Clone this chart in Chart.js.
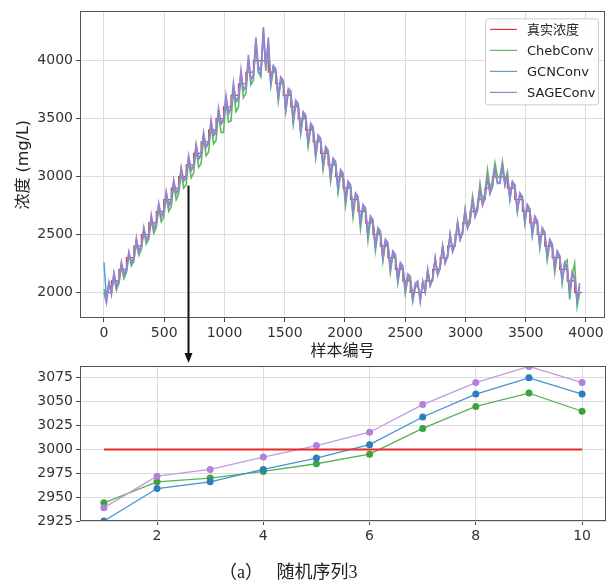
<!DOCTYPE html>
<html>
<head>
<meta charset="utf-8">
<script src="https://cdn.jsdelivr.net/npm/chart.js@4.4.1/dist/chart.umd.min.js"></script>
<style>
  html, body { margin: 0; padding: 0; background: #fff; }
  #wrap { position: relative; width: 610px; height: 584px; overflow: hidden; }
  #topChart { position: absolute; left: 0; top: 0; }
  #bottomChart { position: absolute; left: 0; top: 355px; }
  #caption { position: absolute; left: 219px; top: 557px;
             font: 18px "Liberation Serif", "Noto Sans CJK SC", serif; color: #222; white-space: pre; }
</style>
</head>
<body>
<div id="wrap">
  <canvas id="topChart" width="610" height="366"></canvas>
  <canvas id="bottomChart" width="610" height="229"></canvas>
  <div id="caption">（a）   随机序列3</div>
</div>
<script>
// 上段: 全体 (样本编号 0..~3960), 1 レベル = 62 サンプル, 予測は 1 レベルあたり 3 点
const levelLen = 62;
const trueLevels = [
  2000,2100,2200,2300,2400,2500,2600,2700,2800,2900,3000,3100,3200,3300,3400,3500,3600,3700,3800,3900,4000,
  4000,
  3900,3800,3700,3600,3500,3400,3300,3200,3100,3000,2900,2800,2700,2600,2500,2400,2300,2200,2100,2000,
  2000,
  2100,2200,2300,2400,2500,2600,2700,2800,2900,3000,
  3000,
  2900,2800,2700,2600,2500,2400,2300,2200,2100,2000
];

const chebPred = [
  2030,1960,2060, 2010,2140,2020, 2080,2230,2120, 2170,2330,2230, 2270,2430,2320,
  2370,2530,2420, 2460,2630,2510, 2560,2730,2610, 2650,2830,2700, 2740,2930,2800,
  2850,3040,2900, 2930,3140,2990, 3030,3240,3080, 3110,3340,3180, 3210,3440,3280,
  3310,3550,3380, 3380,3650,3470, 3480,3760,3560, 3600,3870,3680, 3720,4000,3790,
  3830,4180,3900, 3860,4270,3910,
  4120,3780,3920, 3900,3650,3820, 3800,3560,3720, 3700,3450,3620, 3600,3370,3520,
  3500,3260,3420, 3400,3160,3320, 3300,3060,3220, 3200,2960,3120, 3100,2860,3020,
  3000,2750,2920, 2900,2650,2820, 2800,2550,2720, 2700,2450,2620, 2600,2360,2520,
  2500,2270,2420, 2400,2170,2320, 2300,2080,2220, 2200,1990,2120, 2100,1930,2040,
  2070,1950,2080,
  2020,2180,2060, 2130,2290,2160, 2230,2400,2260, 2330,2500,2370, 2440,2610,2470,
  2540,2720,2580, 2650,2830,2680, 2750,2940,2790, 2860,3060,2900, 2960,3120,3000, 2990,3130,2960,
  3040,2810,2950, 2930,2700,2850, 2830,2600,2750, 2720,2490,2640, 2620,2380,2540,
  2510,2280,2430, 2410,2170,2330, 2310,2080,2250, 2280,1940,2150, 2250,1880,2000
];

const gcnPred = [
  2260,1950,2090, 2000,2170,2060, 2100,2250,2160, 2200,2340,2260, 2300,2450,2360,
  2400,2550,2460, 2500,2650,2560, 2600,2750,2660, 2700,2860,2760, 2800,2950,2860,
  2900,3060,2970, 3000,3160,3060, 3100,3260,3160, 3190,3360,3260, 3300,3460,3360,
  3400,3570,3460, 3490,3670,3560, 3590,3780,3650, 3690,3880,3750, 3780,3990,3840,
  3860,4150,3900, 3880,4230,3930,
  4150,3800,3940, 3910,3680,3840, 3810,3570,3740, 3720,3480,3640, 3610,3380,3540,
  3510,3280,3440, 3410,3180,3340, 3310,3080,3240, 3210,2990,3140, 3110,2890,3040,
  3010,2790,2940, 2910,2690,2840, 2810,2590,2740, 2710,2490,2640, 2610,2390,2540,
  2510,2290,2440, 2410,2200,2340, 2310,2100,2240, 2210,2010,2140, 2120,1930,2060,
  2080,1930,2100,
  2010,2190,2070, 2120,2290,2160, 2220,2390,2260, 2320,2490,2360, 2420,2590,2460,
  2520,2690,2560, 2620,2790,2660, 2720,2890,2760, 2820,2990,2860, 2920,3070,2950, 2940,3080,2920,
  3000,2800,2940, 2900,2700,2840, 2800,2600,2740, 2700,2500,2640, 2600,2400,2540,
  2500,2300,2440, 2400,2200,2340, 2300,2100,2240, 2200,1990,2160, 2110,1920,2050
];

const sagePred = [
  2000,1910,2080, 1980,2160,2040, 2090,2260,2150, 2180,2350,2250, 2290,2470,2340,
  2390,2560,2450, 2480,2670,2540, 2590,2770,2650, 2690,2870,2740, 2780,2970,2850,
  2890,3080,2960, 2990,3180,3050, 3090,3280,3150, 3180,3380,3250, 3290,3490,3350,
  3380,3590,3450, 3480,3700,3540, 3580,3810,3640, 3670,3920,3740, 3770,4050,3830,
  3880,4200,3950, 3900,4290,3940,
  4200,3820,3960, 3930,3700,3860, 3830,3590,3760, 3740,3500,3660, 3630,3400,3560,
  3530,3300,3460, 3430,3200,3360, 3330,3100,3260, 3230,3010,3160, 3130,2910,3060,
  3030,2810,2960, 2930,2710,2860, 2830,2610,2760, 2730,2510,2660, 2630,2410,2560,
  2530,2310,2460, 2430,2220,2360, 2330,2120,2260, 2230,2030,2160, 2140,1950,2080,
  2100,1920,2090,
  2000,2200,2060, 2110,2300,2150, 2210,2400,2250, 2310,2500,2350, 2410,2600,2450,
  2510,2700,2550, 2610,2800,2650, 2710,2900,2750, 2810,3000,2850, 2910,3080,2940, 2950,3100,2930,
  3020,2820,2960, 2920,2720,2860, 2820,2620,2760, 2720,2520,2660, 2620,2420,2560,
  2520,2320,2460, 2420,2220,2360, 2320,2120,2260, 2220,2010,2180, 2130,1940,2080
];

const xTicksTop = [0, 500, 1000, 1500, 2000, 2500, 3000, 3500, 4000];
const yTicksTop = [2000, 2500, 3000, 3500, 4000];

// 下段: 随机序列3 の 10 サンプル拡大
const zoomX = [1, 2, 3, 4, 5, 6, 7, 8, 9, 10];
const zoomTrue = [3000, 3000, 3000, 3000, 3000, 3000, 3000, 3000, 3000, 3000];
const zoomCheb = [2944, 2966, 2970, 2977, 2985, 2995, 3022, 3045, 3059, 3040];
const zoomGcn  = [2925, 2959, 2966, 2979, 2991, 3005, 3034, 3058, 3075, 3058];
const zoomSage = [2939, 2972, 2979, 2992, 3004, 3018, 3047, 3070, 3087, 3070];
const xTicksBottom = [2, 4, 6, 8, 10];
const yTicksBottom = [2925, 2950, 2975, 3000, 3025, 3050, 3075];

// 矢印の起点 (上段のデータ座標)
const arrowSample = 700;
const arrowValue = 2922;

const labels = ['真实浓度', 'ChebConv', 'GCNConv', 'SAGEConv'];
const FONT = "'DejaVu Sans', 'Noto Sans CJK SC', sans-serif";

const truePts = trueLevels.map((v, i) => ({ x: i * levelLen, y: v }));
truePts.push({ x: trueLevels.length * levelLen, y: trueLevels[trueLevels.length - 1] });
const toPts = arr => arr.map((v, i) => ({ x: i * levelLen / 3, y: v }));

const framePlugin = {
  id: 'frame',
  afterDraw(chart) {
    const { ctx, chartArea: a } = chart;
    ctx.save();
    ctx.strokeStyle = '#555';
    ctx.lineWidth = 1;
    ctx.strokeRect(Math.round(a.left) + 0.5, Math.round(a.top) + 0.5,
      Math.round(a.right - a.left) - 1, Math.round(a.bottom - a.top) - 1);
    ctx.restore();
  }
};

const boxLegend = {
  id: 'boxLegend',
  afterDraw(chart) {
    const { ctx, chartArea: a } = chart;
    const w = 113, h = 86;
    const left = a.right - 120, top = a.top + 7;
    ctx.save();
    ctx.fillStyle = 'rgba(255,255,255,0.85)';
    ctx.strokeStyle = '#cccccc';
    ctx.lineWidth = 1;
    ctx.beginPath();
    ctx.roundRect(left + 0.5, top + 0.5, w, h, 3);
    ctx.fill();
    ctx.stroke();
    ctx.font = "13px " + FONT;
    ctx.textBaseline = 'middle';
    chart.data.datasets.forEach((ds, i) => {
      const y = top + 11 + i * 21;
      ctx.strokeStyle = ds.borderColor;
      ctx.lineWidth = 1.2;
      ctx.beginPath();
      ctx.moveTo(left + 5, y);
      ctx.lineTo(left + 32, y);
      ctx.stroke();
      ctx.fillStyle = '#222';
      ctx.fillText(ds.label, left + 42, y + 1);
    });
    ctx.restore();
  }
};

const arrowPlugin = {
  id: 'arrow',
  afterDraw(chart) {
    const { ctx, scales } = chart;
    const x = Math.round(scales.x.getPixelForValue(arrowSample)) + 0.5;
    const y0 = scales.y.getPixelForValue(arrowValue);
    const tip = chart.height - 3;
    ctx.save();
    ctx.strokeStyle = '#111';
    ctx.fillStyle = '#111';
    ctx.lineWidth = 2;
    ctx.beginPath();
    ctx.moveTo(x, y0);
    ctx.lineTo(x, tip - 9);
    ctx.stroke();
    ctx.beginPath();
    ctx.moveTo(x - 4, tip - 10);
    ctx.lineTo(x + 4, tip - 10);
    ctx.lineTo(x, tip);
    ctx.closePath();
    ctx.fill();
    ctx.restore();
  }
};

function axisCommon(tickValues) {
  return {
    type: 'linear',
    afterBuildTicks: s => { s.ticks = tickValues.map(v => ({ value: v })); },
    grid: { color: '#dcdcdc', lineWidth: 1, tickLength: 4, tickColor: '#444' },
    border: { display: false },
    ticks: { font: { family: FONT, size: 14 }, color: '#333', padding: 3, callback: v => String(v) }
  };
}

new Chart(document.getElementById('topChart'), {
  type: 'line',
  data: {
    datasets: [
      { label: labels[0], data: truePts, borderColor: '#e8362f', stepped: 'before', borderWidth: 1.2, order: 4 },
      { label: labels[1], data: toPts(chebPred), borderColor: '#5dbb5d', borderWidth: 1.6, order: 3 },
      { label: labels[2], data: toPts(gcnPred), borderColor: '#5aa0d8', borderWidth: 1.6, order: 2 },
      { label: labels[3], data: toPts(sagePred), borderColor: '#9b82d0', borderWidth: 1.6, order: 1 }
    ]
  },
  options: {
    responsive: false,
    animation: false,
    parsing: false,
    normalized: true,
    elements: { point: { radius: 0 }, line: { tension: 0 } },
    layout: { padding: { top: 6, right: 5, left: 10, bottom: 0 } },
    plugins: { legend: { display: false }, tooltip: { enabled: false } },
    scales: {
      x: Object.assign(axisCommon(xTicksTop), {
        min: -199, max: 4158,
        afterFit: s => { s.height = 48; },
        title: { display: true, text: '样本编号', font: { family: FONT, size: 16 }, color: '#222',
                 padding: { top: 0, bottom: 5 } }
      }),
      y: Object.assign(axisCommon(yTicksTop), {
        min: 1780, max: 4424,
        afterFit: s => { s.width = 70; },
        title: { display: true, text: '浓度 (mg/L)', font: { family: FONT, size: 16 }, color: '#222',
                 padding: { top: 4, bottom: 0 } }
      })
    }
  },
  plugins: [framePlugin, boxLegend, arrowPlugin]
});

const ptsOf = arr => arr.map((v, i) => ({ x: zoomX[i], y: v }));

new Chart(document.getElementById('bottomChart'), {
  type: 'line',
  data: {
    datasets: [
      { label: labels[0], data: ptsOf(zoomTrue), borderColor: '#e82a2a', borderWidth: 2, pointRadius: 0, order: 1 },
      { label: labels[1], data: ptsOf(zoomCheb), borderColor: '#55b155', backgroundColor: '#3da33d',
        borderWidth: 1.3, pointRadius: 3.5, pointBorderWidth: 0, order: 4 },
      { label: labels[2], data: ptsOf(zoomGcn), borderColor: '#4592cf', backgroundColor: '#2b7fc0',
        borderWidth: 1.3, pointRadius: 3.5, pointBorderWidth: 0, order: 3 },
      { label: labels[3], data: ptsOf(zoomSage), borderColor: '#c29ae2', backgroundColor: '#b57fdc',
        borderWidth: 1.3, pointRadius: 3.5, pointBorderWidth: 0, order: 2 }
    ]
  },
  options: {
    responsive: false,
    animation: false,
    parsing: false,
    elements: { line: { tension: 0 } },
    layout: { padding: { top: 10, right: 4, left: 10, bottom: 0 } },
    plugins: { legend: { display: false }, tooltip: { enabled: false } },
    scales: {
      x: Object.assign(axisCommon(xTicksBottom), {
        min: 0.55, max: 10.45,
        afterFit: s => { s.height = 63; }
      }),
      y: Object.assign(axisCommon(yTicksBottom), {
        min: 2925, max: 3087,
        afterFit: s => { s.width = 70; }
      })
    }
  },
  plugins: [framePlugin]
});
</script>
</body>
</html>
